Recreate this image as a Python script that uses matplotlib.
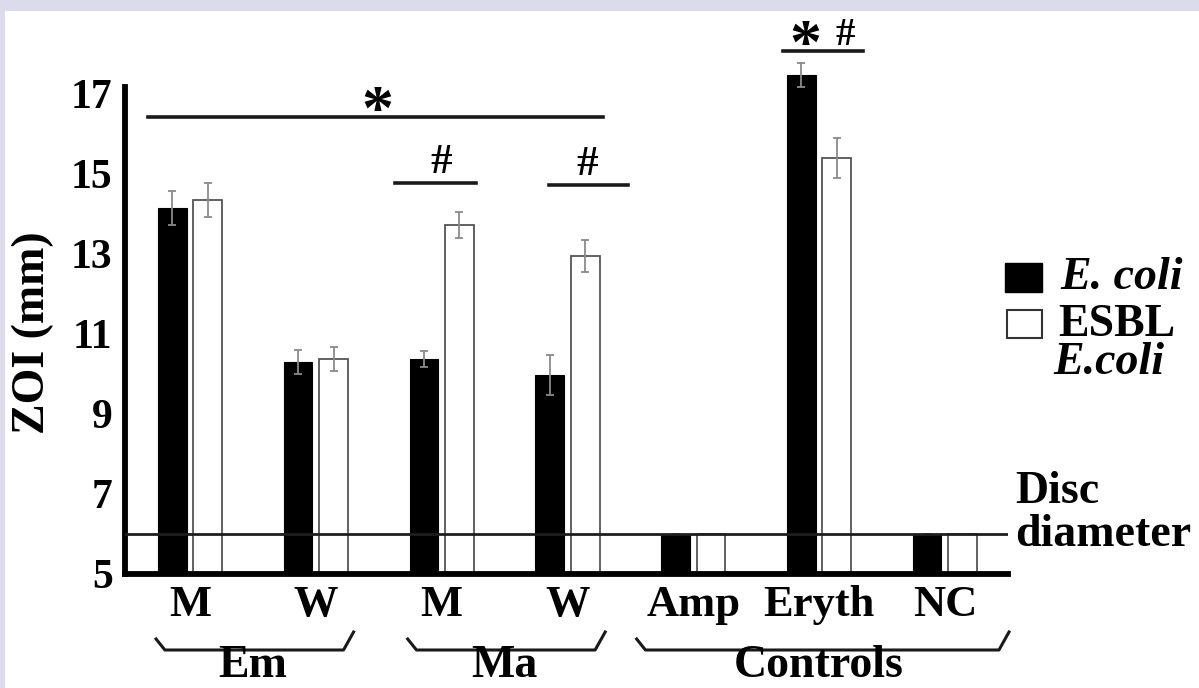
import matplotlib.pyplot as plt
import numpy as np
from matplotlib.patches import Rectangle

plt.rcParams['font.family'] = ['Liberation Serif', 'DejaVu Serif']
plt.rcParams['font.weight'] = 'bold'

# data (zone of inhibition, mm)
labels = ['M', 'W', 'M', 'W', 'Amp', 'Eryth', 'NC']
ecoli = [14.15, 10.30, 10.38, 9.98, 6.0, 17.47, 6.0]
ecoli_err = [0.42, 0.30, 0.20, 0.50, 0.0, 0.30, 0.0]
esbl = [14.35, 10.38, 13.73, 12.95, 6.0, 15.40, 6.0]
esbl_err = [0.42, 0.30, 0.33, 0.41, 0.0, 0.50, 0.0]
groups = ['Em', 'Ma', 'Controls']
group_members = [[0, 1], [2, 3], [4, 5, 6]]
disc = 6.0

W, H = 1199, 688


def px(x, y):
    # pixel position (from top-left) to figure fraction
    return x / W, 1 - y / H


fig = plt.figure(figsize=(W / 100, H / 100), dpi=100, facecolor='#dcdbeb')
fig.patches.append(Rectangle(px(5, H), 1 - 5 / W, 1 - 11 / H,
                             transform=fig.transFigure, facecolor='white',
                             edgecolor='none', zorder=-10))

ax = fig.add_axes([125 / W, 114 / H, 883 / W, 532 / H])
ax.patch.set_alpha(0)

x = np.arange(len(labels))
w = 0.228
off = 0.141
ax.bar(x - off, ecoli, w, color='black', edgecolor='black', lw=0.8, zorder=2)
ax.bar(x + off, esbl, w, facecolor='none', edgecolor='#555555', lw=1.3, zorder=2)
ax.errorbar(x - off, ecoli, yerr=ecoli_err, fmt='none', ecolor='#8a8a8a',
            elinewidth=1.3, capsize=3, capthick=1.3, zorder=3)
ax.errorbar(x + off, esbl, yerr=esbl_err, fmt='none', ecolor='#8a8a8a',
            elinewidth=1.3, capsize=3, capthick=1.3, zorder=3)
ax.axhline(disc, color='#1e1e1e', lw=2, zorder=4)

ax.set_xlim(-0.517, 6.502)
ax.set_ylim(5, 18.3)
ax.spines['left'].set_bounds(5, 17.18)
ax.set_yticks(range(5, 18, 2))
ax.set_xticks(x)
ax.set_xticklabels(labels)
ax.tick_params(axis='y', length=0, labelsize=30, pad=9)
ax.tick_params(axis='x', length=0, labelsize=32, pad=8)
for s in ['top', 'right']:
    ax.spines[s].set_visible(False)
for s in ['left', 'bottom']:
    ax.spines[s].set_linewidth(4.2)
    ax.spines[s].set_color('black')

fig.text(*px(33, 333), 'ZOI (mm)', rotation=90, ha='center', va='center',
         fontsize=33)

# group braces and names
pads = [(0.27, 0.30), (0.27, 0.30), (0.45, 0.51)]
for name, members, (pl, pr) in zip(groups, group_members, pads):
    x0 = members[0] - pl
    x1 = members[-1] + pr
    ax.plot([x0, x0 + 0.07, x1 - 0.08, x1], [3.375, 3.1, 3.1, 3.55],
            color='#1a1a1a', lw=2.2, clip_on=False)
    ax.text(np.mean(members), 2.7, name, ha='center', va='center',
            fontsize=33)


# significance marks
def sig_line(x0, x1, y):
    ax.plot([x0, x1], [y, y], color='#1a1a1a', lw=2.6, clip_on=False)


def star(xc, y):
    ax.text(xc, y - 0.3, '*', ha='center', va='baseline', fontsize=46,
            clip_on=False)


def hash_mark(xc, y, dy=0.5, size=31):
    ax.text(xc, y + dy, '#', ha='center', va='center', fontsize=size,
            clip_on=False)


sig_line(-0.334, 3.283, 16.43)
star(1.49, 16.43)
sig_line(1.63, 2.27, 14.78)
hash_mark(2.0, 14.78)
sig_line(2.85, 3.48, 14.73)
hash_mark(3.16, 14.73)
sig_line(4.71, 5.35, 18.08)
star(4.89, 18.08)
hash_mark(5.21, 18.08, dy=0.38, size=28)

# disc label
fig.text(*px(1015, 492), 'Disc', ha='left', va='center', fontsize=33)
fig.text(*px(1015, 535), 'diameter', ha='left', va='center', fontsize=33)

# legend
fig.patches.append(Rectangle(px(1005, 292), 37 / W, 29 / H,
                             transform=fig.transFigure, facecolor='black',
                             edgecolor='black'))
fig.patches.append(Rectangle(px(1007, 338), 35 / W, 28 / H,
                             transform=fig.transFigure, facecolor='white',
                             edgecolor='#333333', lw=1.5))
fig.text(*px(1060, 278), 'E. coli', ha='left', va='center', fontsize=33,
         style='italic')
fig.text(*px(1058, 325), 'ESBL', ha='left', va='center', fontsize=33)
fig.text(*px(1053, 363), 'E.coli', ha='left', va='center', fontsize=33,
         style='italic')

plt.savefig('out.png', dpi=100, facecolor=fig.get_facecolor())
